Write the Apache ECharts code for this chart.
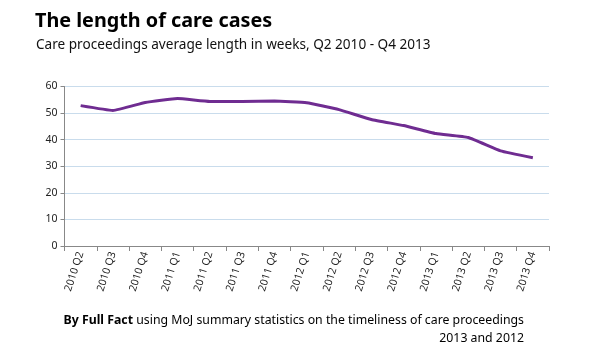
<!DOCTYPE html>
<html><head><meta charset="utf-8">
<script src="https://cdn.jsdelivr.net/npm/echarts@6/dist/echarts.min.js"></script>
<style>html,body{margin:0;padding:0;background:#fff}#c{width:590px;height:357px}</style>
</head><body><div id="c"></div>
<script>
var categories = ["2010 Q2","2010 Q3","2010 Q4","2011 Q1","2011 Q2","2011 Q3","2011 Q4","2012 Q1","2012 Q2","2012 Q3","2012 Q4","2013 Q1","2013 Q2","2013 Q3","2013 Q4"];
var weeks = [52.8, 51.0, 54.0, 55.5, 54.4, 54.4, 54.5, 53.9, 51.3, 47.6, 45.3, 42.3, 40.8, 35.8, 33.2];
var yTicks = [0, 10, 20, 30, 40, 50, 60];

var chart = echarts.init(document.getElementById('c'), null, {renderer: 'canvas'});
var F = 'Noto Sans, sans-serif';
chart.setOption({
  animation: false,
  backgroundColor: '#fff',
  title: [
    {text: 'The length of care cases', left: 35, top: 11, padding: 0,
     textStyle: {fontFamily: F, fontSize: 19.8, fontWeight: 'bold', color: '#000'}},
    {text: 'Care proceedings average length in weeks, Q2 2010 - Q4 2013', left: 36, top: 38, padding: 0,
     textStyle: {fontFamily: F, fontSize: 13.6, fontWeight: 'normal', color: '#111'}}
  ],
  graphic: [
    {type: 'text', right: 66, top: 314,
     style: {text: '{b|By Full Fact} using MoJ summary statistics on the timeliness of care proceedings',
       rich: {b: {fontFamily: F, fontSize: 12.3, fontWeight: 'bold', fill: '#000'}},
       font: '12.3px ' + F, fill: '#000', align: 'right'}},
    {type: 'text', right: 66, top: 332,
     style: {text: '2013 and 2012', font: '12.3px ' + F, fill: '#000', align: 'right'}}
  ],
  grid: {left: 64.5, right: 41, top: 86.5, bottom: 111, containLabel: false},
  xAxis: {
    type: 'category', data: categories, boundaryGap: true,
    axisLine: {lineStyle: {color: '#888', width: 1}},
    axisTick: {show: true, length: 5, lineStyle: {color: '#888'}},
    axisLabel: {rotate: 72, fontFamily: F, fontSize: 10.5, color: '#222', margin: 6, interval: 0}
  },
  yAxis: {
    type: 'value', min: 0, max: 60, interval: 10,
    axisLine: {show: true, lineStyle: {color: '#888', width: 1}},
    axisTick: {show: true, length: 4, lineStyle: {color: '#888'}},
    axisLabel: {fontFamily: F, fontSize: 10.5, color: '#222', margin: 7,
      formatter: function (v) { return yTicks.indexOf(v) >= 0 ? String(v) : ''; }},
    splitLine: {lineStyle: {color: '#c9dcec', width: 1}}
  },
  series: [{
    type: 'line', data: weeks, symbol: 'none', smooth: 0.12,
    lineStyle: {color: '#6f2c91', width: 3}
  }]
});
</script></body></html>
